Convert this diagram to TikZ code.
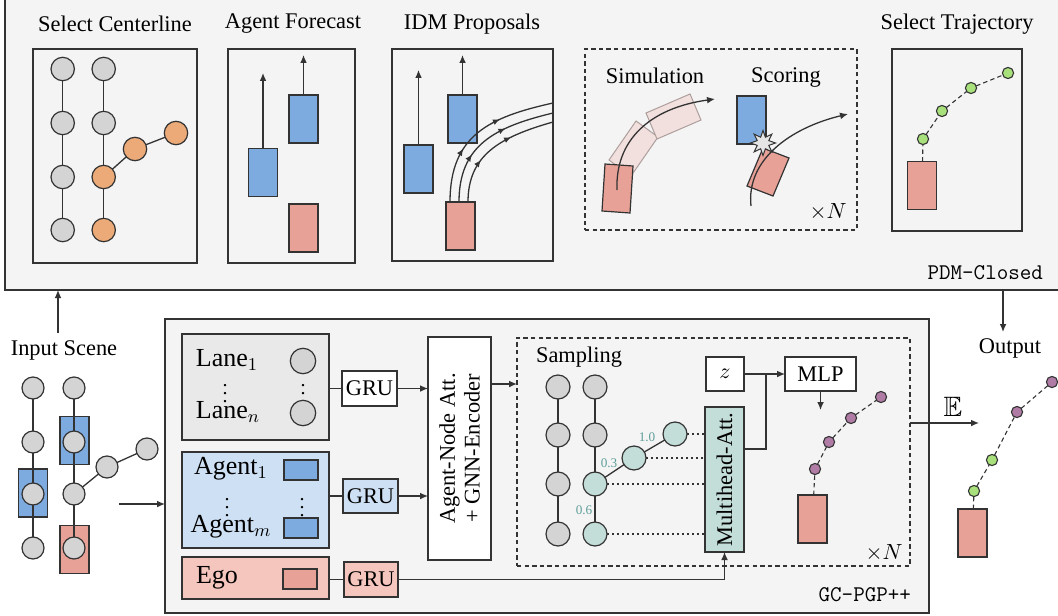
\documentclass[tikz,border=0pt]{standalone}
\usepackage{amssymb}
\usepackage{fontspec}
\setmainfont{Liberation Serif}
\usetikzlibrary{arrows.meta,fit,shapes.geometric,decorations.markings,calc}
\definecolor{bgc}{HTML}{F4F4F4}
\definecolor{cgray}{HTML}{D4D4D4}
\definecolor{corange}{HTML}{EBAA78}
\definecolor{cblue}{HTML}{7DAADF}
\definecolor{cred}{HTML}{E8A197}
\definecolor{cghost}{HTML}{F2E0DE}
\definecolor{cghostb}{HTML}{AD9E9C}
\definecolor{clane}{HTML}{E9E9E9}
\definecolor{cagent}{HTML}{CEE1F4}
\definecolor{cego}{HTML}{F5C6BE}
\definecolor{cteal}{HTML}{C3DDD8}
\definecolor{ctealtxt}{HTML}{5E9E99}
\definecolor{cgreen}{HTML}{A8E07C}
\definecolor{cpurple}{HTML}{B07CA5}
\definecolor{cline}{HTML}{333333}
\tikzset{
  panel/.style={draw=cline, line width=0.7pt, inner sep=0pt, outer sep=0pt},
  dpanel/.style={panel, dash pattern=on 2.2pt off 1.6pt},
  tbox/.style={draw=cline, line width=0.65pt, inner sep=0pt, outer sep=0pt},
  gnode/.style={circle, draw=cline, line width=0.6pt, inner sep=0pt, outer sep=0pt, fill=cgray, minimum size=11.7pt},
  onode/.style={gnode, fill=corange},
  tnode/.style={gnode, fill=cteal, minimum size=12pt},
  carbox/.style={draw=cline, line width=0.6pt, inner sep=0pt, outer sep=0pt, minimum width=14.5pt, minimum height=24pt},
  bcar/.style={carbox, fill=cblue},
  rcar/.style={carbox, fill=cred},
  smallcar/.style={carbox, minimum width=17pt, minimum height=10pt},
  gdot/.style={circle, draw=cline, line width=0.55pt, inner sep=0pt, outer sep=0pt, fill=cgreen, minimum size=5.6pt},
  pdot/.style={gdot, fill=cpurple},
  edge/.style={draw=cline, line width=0.65pt},
  arr/.style={edge, -{Latex[length=4pt,width=3.4pt]}},
  traj/.style={edge, line width=0.55pt, dash pattern=on 2.2pt off 1.6pt},
  dotl/.style={edge, line width=0.6pt, dash pattern=on 1pt off 1.5pt},
  ghost/.style={draw=cghostb, fill=cghost, line width=0.5pt},
  rpoly/.style={draw=cline, fill=cred, line width=0.6pt},
  bigt/.style={font=\fontsize{13}{15}\selectfont, inner sep=0.5pt},
  vdt/.style={font=\fontsize{10}{10}\selectfont, inner sep=0pt},
  mono/.style={font=\ttfamily\fontsize{11.2}{13}\selectfont},
  tealtxt/.style={font=\fontsize{6.6}{8}\selectfont, text=ctealtxt, inner sep=0.5pt},
  midarr/.style={postaction={decorate}, decoration={markings,
     mark=at position 0.35 with {\arrow{Latex[length=3.5pt,width=3pt]}},
     mark=at position 0.65 with {\arrow{Latex[length=3.5pt,width=3pt]}}}}
}
\begin{document}
\begin{tikzpicture}[x=0.5pt,y=-0.5pt, font=\fontsize{11.2}{13.4}\selectfont]
\useasboundingbox (0,0) rectangle (1058,615);
% ================= top panel (PDM-Closed) =================
\node[panel, fill=bgc, fit={(5,-3) (1063,290)}] (pdm) {};
\node[mono, anchor=east] (pdmlbl) at (1050,273) {PDM-Closed};
\node (tsc) at (115,24) {Select Centerline};
\node (taf) at (293,24) {Agent Forecast};
\node (tidm) at (472,24) {IDM Proposals};
\node (tst) at (957,24) {Select Trajectory};
\node[panel, fit={(33,49) (197,263)}] (scbox) {};
\node[panel, fit={(228,49) (355,263)}] (afbox) {};
\node[panel, fit={(392,49) (553,261)}] (idmbox) {};
\node[dpanel, fit={(585,49) (857,230)}] (simbox) {};
\node[panel, fit={(892,49) (1022,231)}] (stbox) {};

% --- Select Centerline
\node[gnode] (a1) at (62.7,69) {};
\node[gnode] (a2) at (62.7,123) {};
\node[gnode] (a3) at (62.7,177) {};
\node[gnode] (a4) at (62.7,230) {};
\node[gnode] (b1) at (103.7,69) {};
\node[gnode] (b2) at (103.7,123) {};
\node[onode] (b3) at (103.7,177) {};
\node[onode] (b4) at (103.7,230) {};
\node[onode] (b5) at (135,149) {};
\node[onode] (b6) at (176,133) {};
\draw[edge] (a1) -- (a2) -- (a3) -- (a4);
\draw[edge] (b1) -- (b2) -- (b3) -- (b4);
\draw[edge] (b3) -- (b5) -- (b6);

% --- Agent Forecast
\node[bcar] (af1) at (263,172.5) {};
\coordinate (af1t) at (263,73);
\draw[arr] (af1) -- (af1t);
\node[bcar] (af2) at (303.5,119) {};
\coordinate (af2t) at (303.5,55);
\draw[arr] (af2) -- (af2t);
\node[rcar] (af3) at (303.5,228) {};

% --- IDM Proposals
\node[bcar] (id1) at (418.5,169) {};
\coordinate (id1t) at (418.5,70);
\draw[arr] (id1) -- (id1t);
\node[bcar] (id2) at (462.5,119) {};
\coordinate (id2t) at (462.5,55);
\draw[arr] (id2) -- (id2t);
\node[rcar] (id3) at (460.5,226) {};
\draw[edge, midarr] ($(id3.north)+(-10.5,0)$) .. controls (450,135) and (490,117) .. (553,103);
\draw[edge, midarr] ($(id3.north)+(-1.5,0)$) .. controls (459,145) and (495,127) .. (553,113);
\draw[edge, midarr] ($(id3.north)+(7.5,0)$) .. controls (468,155) and (500,137) .. (553,122);

% --- Simulation
\node (tsim) at (655,76) {Simulation};
\filldraw[ghost] (609,160) -- (636,121) -- (658,137) -- (631,176) -- cycle;
\filldraw[ghost] (646,113) -- (690,94) -- (701,120) -- (657,139) -- cycle;
\filldraw[rpoly] (605,164) -- (633,166) -- (630,213) -- (602,211) -- cycle;
\draw[arr] (617,190) .. controls (615,140) and (650,108) .. (715,99);

% --- Scoring
\node (tscore) at (786,78) {Scoring};
\node[bcar] (sc1) at (751.5,120) {};
\filldraw[rpoly] (747,186) -- (773,196) -- (789,158) -- (763,148) -- cycle;
\draw[arr] (751,206) .. controls (746,160) and (790,128) .. (848,114);
\node[star, star points=8, star point ratio=2.0, draw=cline, fill=gray!20, line width=0.5pt, minimum size=12.5pt, inner sep=0pt] (crash) at (763,143) {};
\node (xn1) at (828,212) {$\times N$};

% --- Select Trajectory
\node[rcar] (st0) at (922,185.5) {};
\node[gdot] (st1) at (923,139) {};
\node[gdot] (st2) at (942,111) {};
\node[gdot] (st3) at (971,88) {};
\node[gdot] (st4) at (1008,73) {};
\draw[traj] (st0) -- (st1) -- (st2) -- (st3) -- (st4);

% ================= input scene =================
\node (inl) at (64,350) {Input Scene};
\coordinate (inup) at (58,333);
\draw[arr] (inup) -- (inup |- pdm.south);
\node[bcar] (isb1) at (33,493) {};
\node[bcar] (isb2) at (74.5,440.5) {};
\node[rcar] (isr) at (74.5,549.5) {};
\node[gnode, minimum size=11pt] (i1) at (33,388) {};
\node[gnode, minimum size=11pt] (i2) at (33,442) {};
\node[gnode, minimum size=11pt] (i3) at (33,494) {};
\node[gnode, minimum size=11pt] (i4) at (33,548) {};
\node[gnode, minimum size=11pt] (j1) at (74,388) {};
\node[gnode, minimum size=11pt] (j2) at (74,442) {};
\node[gnode, minimum size=11pt] (j3) at (74,494) {};
\node[gnode, minimum size=11pt] (j4) at (74,548) {};
\node[gnode, minimum size=11pt] (j5) at (107,467) {};
\node[gnode, minimum size=11pt] (j6) at (147,449) {};
\draw[edge] (i1) -- (i2) -- (i3) -- (i4);
\draw[edge] (j1) -- (j2) -- (j3) -- (j4);
\draw[edge] (j3) -- (j5) -- (j6);

% ================= GC-PGP++ panel =================
\node[panel, fill=bgc, fit={(165,319) (929,613)}] (gc) {};
\coordinate (instart) at (119,504);
\draw[arr] (instart) -- (instart -| gc.west);
\node[mono, anchor=east] (gclbl) at (918,595) {GC-PGP++};

% lanes
\node[tbox, fill=clane, fit={(182,334) (329,440)}] (lane) {};
\node[bigt] (l1) at (227,360) {Lane$_1$};
\node[vdt] (ldots) at (225,388) {$\vdots$};
\node[bigt] (ln) at (228,412) {Lane$_n$};
\node[gnode, minimum size=12.7pt] (lc1) at (303,361) {};
\node[vdt] (lcd) at (303,388) {$\vdots$};
\node[gnode, minimum size=12.7pt] (lc2) at (303,413) {};
% agents
\node[tbox, fill=cagent, fit={(182,452) (329,548)}] (agent) {};
\node[bigt] (ag1) at (231,469) {Agent$_1$};
\node[vdt] (agd) at (227,502) {$\vdots$};
\node[bigt] (agm) at (231,527) {Agent$_m$};
\node[smallcar, fill=cblue] (agc1) at (301,470) {};
\node[vdt] (agcd) at (302,502) {$\vdots$};
\node[smallcar, fill=cblue] (agc2) at (301,528) {};
% ego
\node[tbox, fill=cego, fit={(182,557) (329,599)}] (ego) {};
\node[bigt] (egot) at (217,578) {Ego};
\node[smallcar, fill=cred] (egoc) at (300,579) {};

% GRUs
\node[tbox, fill=white, minimum width=27.5pt, minimum height=17.5pt] (gru1) at (369.5,388.5) {GRU};
\node[tbox, fill=cagent, minimum width=27.5pt, minimum height=17pt] (gru2) at (370.5,496) {GRU};
\node[tbox, fill=cego, minimum width=27pt, minimum height=17.5pt] (gru3) at (371,579.5) {GRU};

% encoder
\node[tbox, fill=white, rotate=90, minimum width=111.5pt, minimum height=31.5pt, align=center] (an) at (459.5,448.5) {Agent-Node Att.\\[-1pt]+ GNN-Encoder};

\draw[edge] (gru1.west -| lane.east) -- (gru1.west);
\draw[arr] (gru1.east) -- (gru1.east -| an.north);
\draw[edge] (gru2.west -| agent.east) -- (gru2.west);
\draw[arr] (gru2.east) -- (gru2.east -| an.north);
\draw[edge] (gru3.west -| ego.east) -- (gru3.west);

% sampling block
\node[dpanel, fit={(517,338) (910,566)}] (samp) {};
\node (tsamp) at (579,357) {Sampling};
\node (xn2) at (884,553) {$\times N$};
\draw[arr] (an.south |- 0,384) -- (samp.west |- 0,384);

\node[gnode, minimum size=12pt] (s1) at (558,387) {};
\node[gnode, minimum size=12pt] (s2) at (558,435) {};
\node[gnode, minimum size=12pt] (s3) at (558,484) {};
\node[gnode, minimum size=12pt] (s4) at (558,534) {};
\node[gnode, minimum size=12pt] (u1) at (595,387) {};
\node[gnode, minimum size=12pt] (u2) at (595,435) {};
\node[tnode] (u3) at (595,484) {};
\node[tnode] (u4) at (595,534) {};
\node[tnode] (u5) at (634,458) {};
\node[tnode] (u6) at (675,434) {};
\draw[edge] (s1) -- (s2) -- (s3) -- (s4);
\draw[edge] (u1) -- (u2) -- (u3) -- (u4);
\draw[edge] (u3) -- (u5) -- (u6);
\node[tealtxt] (w1) at (647,437) {1.0};
\node[tealtxt] (w2) at (609,463) {0.3};
\node[tealtxt] (w3) at (584,510) {0.6};

\node[tbox, fill=cteal, rotate=90, minimum width=72.5pt, minimum height=19.5pt] (mh) at (724.5,479.5) {Multihead-Att.};
\node[tbox, fill=white, minimum width=19pt, minimum height=17pt] (z) at (725,374) {$z$};
\node[tbox, fill=white, minimum width=35.5pt, minimum height=17pt] (mlp) at (820.5,374) {MLP};

\draw[dotl] (u6.east) -- (u6.east -| mh.north);
\draw[dotl] (u5.east) -- (u5.east -| mh.north);
\draw[dotl] (u3.east) -- (u3.east -| mh.north);
\draw[dotl] (u4.east) -- (u4.east -| mh.north);

\draw[arr] (gru3.east) -| (mh.west);
\draw[arr] (z.east) -- (mlp.west);
\coordinate (jn) at (766,374);
\draw[edge] (mh.south |- 0,449) -| (jn);
\coordinate (mlpd) at (820.5,410);
\draw[arr] (mlp.south) -- (mlpd);

% sampled trajectory
\node[rcar] (sr) at (812.5,519) {};
\node[pdot] (p1) at (815,469) {};
\node[pdot] (p2) at (829,442) {};
\node[pdot] (p3) at (851,418) {};
\node[pdot] (p4) at (881,397) {};
\draw[traj] (sr) -- (p1) -- (p2) -- (p3) -- (p4);

% expectation to output
\coordinate (eend) at (979,423);
\draw[arr] (samp.east |- eend) -- (eend);
\node[font=\fontsize{14}{16}\selectfont] (elbl) at (953,407) {$\mathbb{E}$};

% output
\node (outl) at (1010,348) {Output};
\coordinate (outdn) at (1003,332);
\draw[arr] (outdn |- pdm.south) -- (outdn);
\node[rcar] (or) at (972.5,533) {};
\node[gdot] (o1) at (974,491) {};
\node[gdot] (o2) at (992,460) {};
\node[pdot] (o3) at (1017,412) {};
\node[pdot] (o4) at (1052,382) {};
\draw[traj] (or) -- (o1) -- (o2) -- (o3) -- (o4);
\end{tikzpicture}
\end{document}
